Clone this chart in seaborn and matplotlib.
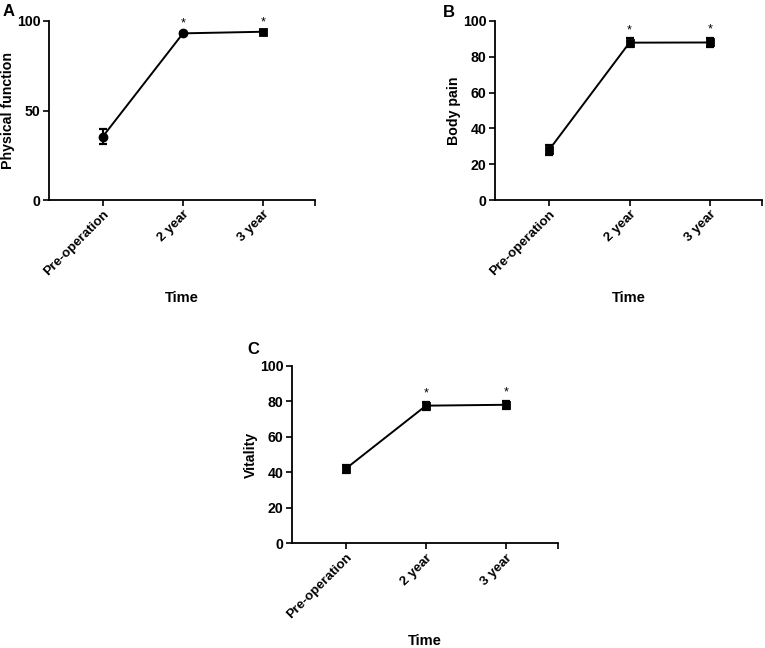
import numpy as np
import pandas as pd
import matplotlib
matplotlib.use("Agg")
import matplotlib.pyplot as plt
import seaborn as sns

# ---- data ----
times = ["Pre-operation", "2 year", "3 year"]

pf_mean = [35.4, 93.1, 94.0]
pf_err = [4.0, 0.8, 0.8]
pf_markers = ["o", "o", "s"]

bp_mean = [27.9, 87.9, 88.0]
bp_err = [2.8, 2.5, 2.5]
bp_markers = ["s", "s", "s"]

vt_mean = [42.0, 77.5, 78.0]
vt_err = [2.2, 2.2, 2.2]
vt_markers = ["s", "s", "s"]

signif = [False, True, True]

ylabels = ["Physical function", "Body pain", "Vitality"]
yticks_A = [0, 50, 100]
yticks_BC = [0, 20, 40, 60, 80, 100]
letters = ["A", "B", "C"]

sns.set_style("ticks")
plt.rcParams["font.family"] = ["Liberation Sans", "DejaVu Sans"]
plt.rcParams["font.weight"] = "bold"
for k in ["text.color", "axes.labelcolor", "xtick.color", "ytick.color", "axes.edgecolor"]:
    plt.rcParams[k] = "black"

fig = plt.figure(figsize=(7.65, 6.48), dpi=100)

W, H = 765.0, 648.0
def rect(l, r, top, bot):
    return [l / W, 1 - bot / H, (r - l) / W, (bot - top) / H]

axes_rects = [rect(49, 315, 21, 200), rect(495, 762, 21, 200), rect(292, 558, 365.7, 543.3)]
letter_pos = [(3, 4), (443, 5), (247, 342)]

panels = [
    (pf_mean, pf_err, pf_markers, yticks_A),
    (bp_mean, bp_err, bp_markers, yticks_BC),
    (vt_mean, vt_err, vt_markers, yticks_BC),
]

for i, ((means, errs, mks, yt), r) in enumerate(zip(panels, axes_rects)):
    ax = fig.add_axes(r)
    df = pd.DataFrame({"time": times, "value": means})
    # connecting line
    sns.pointplot(data=df, x="time", y="value", order=times, color="black",
                  markers="", linestyles="-", errorbar=None, ax=ax,
                  linewidth=1.4)
    # markers per point
    for m in sorted(set(mks)):
        sub = df[[mk == m for mk in mks]]
        sns.pointplot(data=sub, x="time", y="value", order=times, color="black",
                      markers=m, linestyles="none", errorbar=None, ax=ax,
                      markersize=5 if m == "o" else 4.4)
    pos = np.arange(len(times))
    ax.errorbar(pos, means, yerr=errs, fmt="none", ecolor="black",
                elinewidth=1.5, capsize=2.8, capthick=1.6, zorder=5)
    for p, m, e, s in zip(pos, means, errs, signif):
        if s:
            ax.annotate("*", xy=(p, m + e), xytext=(0, 1.5), textcoords="offset points",
                        ha="center", va="bottom", fontsize=9, fontweight="normal")
    ax.set_xlim(-0.67, 2.645)
    ax.set_ylim(0, 100)
    ax.set_yticks(yt)
    ax.set_xticks(pos)
    ax.set_xticklabels(times, rotation=45, ha="right", rotation_mode="anchor",
                       fontsize=9.6, fontweight="bold")
    ax.set_xticks([2.645], minor=True)
    ax.tick_params(axis="x", which="minor", length=4, width=1.2)
    for lab in ax.get_yticklabels():
        lab.set_fontsize(10.2)
        lab.set_fontweight("bold")
    ax.tick_params(axis="both", which="major", length=4, width=1.2, pad=2)
    for sp in ["left", "bottom"]:
        ax.spines[sp].set_linewidth(1.3)
    sns.despine(ax=ax)
    ax.set_xlabel("Time", fontsize=10.5, fontweight="bold")
    ax.set_ylabel(ylabels[i], fontsize=10.2, fontweight="bold")
    ax.xaxis.set_label_coords(0.5, -0.51)
    ax.yaxis.set_label_coords(-0.128, 0.5)
    lx, ly = letter_pos[i]
    fig.text(lx / W, 1 - ly / H, letters[i], fontsize=12, fontweight="bold",
             ha="left", va="top")

fig.savefig("out.png", dpi=100)
